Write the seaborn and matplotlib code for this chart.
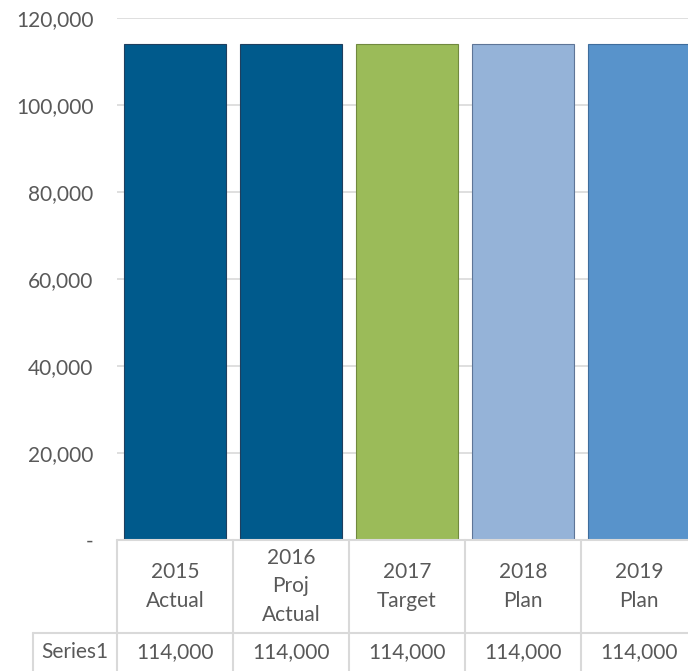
import matplotlib
matplotlib.use("Agg")
import matplotlib.pyplot as plt
import matplotlib.transforms as mtransforms
from matplotlib.lines import Line2D
import seaborn as sns
import pandas as pd

categories = ["2015\nActual", "2016\nProj\nActual", "2017\nTarget", "2018\nPlan", "2019\nPlan"]
series_name = "Series1"
values = [114000, 114000, 114000, 114000, 114000]
colors = ["#005A8C", "#005A8C", "#9BBB59", "#95B3D8", "#5893CB"]
edges = ["#1F3F5F", "#1F3F5F", "#71893F", "#5E7597", "#3F6D9C"]
yticks = [0, 20000, 40000, 60000, 80000, 100000, 120000]

sns.set_theme(style="white")
plt.rcParams['font.family'] = ['Lato', 'DejaVu Sans']
TXT = "#595959"
GRID = "#D9D9D9"
W, H = 688, 671

fig = plt.figure(figsize=(W / 100, H / 100), dpi=100)
left, right, top, bottom = 117, 697, 18, 540
ax = fig.add_axes([left / W, 1 - bottom / H, (right - left) / W, (bottom - top) / H])

df = pd.DataFrame({"cat": categories, "val": values})
sns.barplot(data=df, x="cat", y="val", hue="cat", palette=colors, legend=False,
            width=0.88, ax=ax, linewidth=0.8, saturation=1)
for patch, ec in zip(ax.patches, edges):
    patch.set_edgecolor(ec)

ax.set_xlim(-0.5, len(categories) - 0.5)
ax.set_ylim(0, 120000)
ax.set_yticks(yticks)
ax.set_yticklabels(["-" if v == 0 else f"{v:,}" for v in yticks])
ax.tick_params(axis="y", length=0, pad=17, labelsize=15, labelcolor=TXT)
ax.set_xticks([])
ax.set_xlabel("")
ax.set_ylabel("")
ax.yaxis.grid(True, color=GRID, linewidth=1.2)
ax.set_axisbelow(True)
for s in ax.spines.values():
    s.set_visible(False)

# data table
trans = mtransforms.blended_transform_factory(ax.transData, fig.transFigure)
def fy(py):
    return 1 - py / H

row1_top, row2_top, row2_bot = 540, 633, 671
lines = []
lines.append(Line2D([-0.5, len(categories) - 0.5], [fy(row1_top)] * 2, transform=trans))
lines.append(Line2D([33 / W, 1], [fy(row2_top)] * 2, transform=fig.transFigure))
lines.append(Line2D([33 / W] * 2, [fy(row2_top), fy(row2_bot)], transform=fig.transFigure))
for i in range(len(categories) + 1):
    lines.append(Line2D([i - 0.5] * 2, [fy(row1_top), fy(row2_bot)], transform=trans))
for ln in lines:
    ln.set_color(GRID)
    ln.set_linewidth(1.5)
    ln.set_clip_on(False)
    fig.add_artist(ln)

for i, (c, v) in enumerate(zip(categories, values)):
    fig.text(i, fy((row1_top + row2_top) / 2), c, transform=trans, ha="center", va="center",
             fontsize=15, color=TXT, linespacing=1.55)
    fig.text(i, fy(652), f"{v:,}", transform=trans, ha="center", va="center",
             fontsize=15, color=TXT)
fig.text(75 / W, fy(652), series_name, ha="center", va="center", fontsize=15, color=TXT)

fig.savefig("out.png", dpi=100)
